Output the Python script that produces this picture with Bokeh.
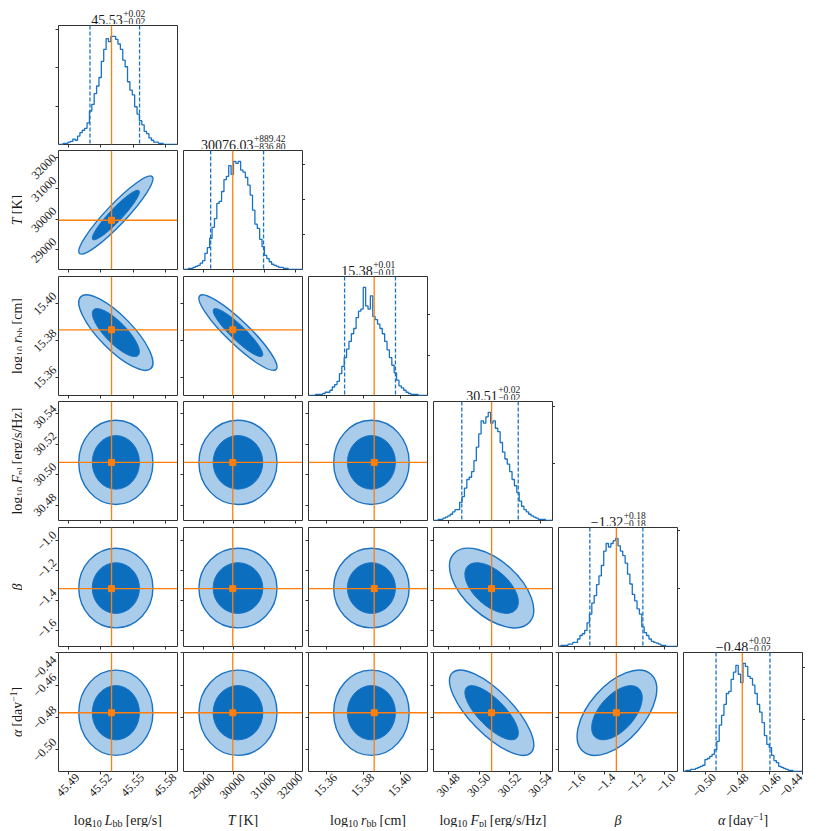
import numpy as np
from bokeh.plotting import figure
from bokeh.layouts import gridplot
from bokeh.models import Range1d, FixedTicker, Span, LinearAxis
from bokeh.core.properties import value
from bokeh.embed import file_html
from bokeh.resources import INLINE

# ------------------------------------------------------------------ data
param_lo = [45.4808, 28353.0, 15.3505, 30.4700, -1.706, -0.5133]
param_hi = [45.5912, 32236.0, 15.4148, 30.5478, -0.912, -0.4398]
tick_values = [[45.49, 45.52, 45.55, 45.58], [29000, 30000, 31000, 32000],
               [15.36, 15.38, 15.40], [30.48, 30.50, 30.52, 30.54],
               [-1.6, -1.4, -1.2, -1.0], [-0.50, -0.48, -0.46, -0.44]]
tick_labels = [["45.49", "45.52", "45.55", "45.58"], ["29000", "30000", "31000", "32000"],
               ["15.36", "15.38", "15.40"], ["30.48", "30.50", "30.52", "30.54"],
               ["−1.6", "−1.4", "−1.2", "−1.0"], ["−0.50", "−0.48", "−0.46", "−0.44"]]
truth = [45.530, 29960.0, 15.386, 30.508, -1.320, -0.477]
quant_lo = [45.510, 29239.2, 15.370, 30.4885, -1.497, -0.4932]
quant_hi = [45.556, 30965.5, 15.3975, 30.5254, -1.143, -0.4599]
post_mean = [45.534, 30130.0, 15.3845, 30.508, -1.316, -0.477]
post_sigma = [0.0145, 537.0, 0.0086, 0.0116, 0.112, 0.0111]
pair_corr = {(1, 0): 0.93, (2, 0): -0.80, (2, 1): -0.91, (3, 0): 0.0, (3, 1): 0.0,
             (3, 2): 0.0, (4, 0): 0.0, (4, 1): 0.0, (4, 2): 0.0, (4, 3): -0.55,
             (5, 0): 0.0, (5, 1): 0.0, (5, 2): 0.0, (5, 3): -0.75, (5, 4): 0.55}
contour_levels = [0.68, 0.94]

hist_L = [0, 0, 3, 3, 6, 8, 14, 11, 22, 31, 37, 42, 56, 87, 104, 132, 152, 174, 216, 247,
          275, 267, 281, 281, 273, 261, 247, 219, 202, 163, 141, 129, 98, 79, 62, 51, 34, 28, 17, 11,
          6, 6, 3, 3, 0, 0, 0, 0, 0, 0]
hist_T = [0, 0, 3, 3, 6, 9, 12, 18, 25, 46, 62, 89, 120, 145, 188, 194, 222, 256, 265, 296,
          271, 308, 302, 308, 283, 277, 262, 240, 212, 169, 129, 117, 86, 65, 40, 31, 22, 15, 12, 9,
          6, 6, 3, 3, 0, 0, 0, 0, 0, 0]
hist_r = [0, 0, 0, 3, 3, 3, 5, 8, 8, 13, 21, 27, 35, 54, 72, 94, 115, 134, 153, 166,
          193, 209, 214, 268, 222, 214, 247, 196, 188, 177, 166, 153, 134, 113, 94, 75, 56, 38, 24, 19,
          13, 8, 5, 3, 3, 3, 0, 0, 0, 0]
hist_F = [0, 0, 2, 2, 4, 6, 8, 11, 15, 19, 19, 32, 42, 57, 72, 76, 86, 105, 129, 152,
          175, 171, 182, 190, 171, 175, 162, 156, 137, 120, 108, 99, 86, 72, 61, 49, 34, 25, 19, 15,
          11, 8, 6, 4, 2, 2, 2, 0, 0, 0]
hist_beta = [0, 2, 2, 2, 4, 4, 7, 7, 13, 19, 22, 28, 41, 56, 75, 88, 107, 122, 140, 165,
             178, 172, 178, 183, 187, 174, 165, 157, 144, 125, 108, 90, 79, 65, 56, 34, 24, 19, 13, 9,
             7, 6, 4, 2, 2, 0, 0, 0, 0, 0]
hist_alpha = [0, 2, 2, 4, 4, 6, 8, 10, 12, 23, 25, 29, 33, 42, 58, 89, 108, 129, 150, 154,
              177, 191, 204, 187, 171, 208, 202, 183, 179, 166, 150, 129, 114, 94, 69, 52, 46, 31, 21, 17,
              10, 8, 6, 4, 2, 2, 0, 0, 0, 0]
hist_counts = [hist_L, hist_T, hist_r, hist_F, hist_beta, hist_alpha]
hist_ticks = [100, 200, 300]

title_med = ["45.53", "30076.03", "15.38", "30.51", "−1.32", "−0.48"]
title_up = ["+0.02", "+889.42", "+0.01", "+0.02", "+0.18", "+0.02"]
title_dn = ["−0.02", "−836.80", "−0.01", "−0.02", "−0.18", "−0.02"]

# axis-label pieces: (text, kind); R=roman, I=italic, S=subscript, P=superscript, G=gap
axis_label_parts = [
    [("log", "R"), ("10", "S"), ("", "G"), ("L", "I"), ("bb", "S"), ("", "G"), ("[erg/s]", "R")],
    [("T", "I"), ("", "G"), ("[K]", "R")],
    [("log", "R"), ("10", "S"), ("", "G"), ("r", "I"), ("bb", "S"), ("", "G"), ("[cm]", "R")],
    [("log", "R"), ("10", "S"), ("", "G"), ("F", "I"), ("pl", "S"), ("", "G"), ("[erg/s/Hz]", "R")],
    [("β", "I")],
    [("α", "I"), ("", "G"), ("[day", "R"), ("−1", "P"), ("]", "R")],
]

# ------------------------------------------------------------------ style / layout
FONT = "Liberation Serif"
TXT = "#1a1a1a"
FRAME = "#333333"
ORANGE = "#ff7f0e"
BLUE = "#1a72c4"
DARK_FILL = "#0b6ebf"
LIGHT_FILL = "#a8cce9"
N = 6
FW = FH = 119
SW = 22                      # left strip (y labels)
COL_LEFT = [36, 3, 3, 3, 3, 3]
COL_RIGHT = 3
ROW_TOP = [1, 1, 1, 1, 1, 1]
ROW_BOTTOM = [5, 6, 5, 6, 5, 35]
TITLE_H = 24
BOTTOM_H = 21
COL_W = [COL_LEFT[j] + FW + COL_RIGHT for j in range(N)]
ROW_H = [ROW_TOP[i] + FH + ROW_BOTTOM[i] for i in range(N)]
XLAB_SHIFT, XLAB_END = 9.0, 2.0     # px: centre rotated x tick labels on their ticks
YLAB_SHIFT, YLAB_END = 10.0, 5.5    # px: centre rotated y tick labels on their ticks
TICK_FONT = "12px"

CW = {'.': 0.25, '+': 0.564, '−': 0.564, '[': 0.333, ']': 0.333, '/': 0.278, 'l': 0.278,
      'o': 0.5, 'g': 0.5, 'b': 0.5, 'e': 0.444, 'r': 0.333, 's': 0.389, 'c': 0.444, 'm': 0.778,
      'H': 0.722, 'z': 0.444, 'K': 0.722, 'd': 0.5, 'a': 0.444, 'y': 0.5, 'p': 0.5}
CW_I = {'L': 0.556, 'T': 0.556, 'r': 0.389, 'F': 0.611, 'β': 0.5, 'α': 0.53}
KIND = {"R": (14, "normal", 0.0), "I": (14, "italic", 0.0), "S": (10, "normal", -3.0),
        "P": (9.5, "normal", 4.0), "G": (14, "normal", 0.0)}


def text_w(s, size, italic=False):
    tot = 0.0
    for c in s:
        if italic and c in CW_I:
            tot += CW_I[c]
        else:
            tot += CW.get(c, 0.5)
    return tot * size


def part_w(t, kind):
    size, style, _ = KIND[kind]
    if kind == "G":
        return 0.22 * size
    return text_w(t, size, style == "italic")


def put_text(p, x, y, t, size, style="normal", angle=0.0):
    p.text(x=[x], y=[y], text=[t], angle=angle, text_font=value(FONT),
           text_font_size=value(f"{size}px"), text_font_style=value(style),
           text_color=TXT, text_align=value("left"), text_baseline=value("alphabetic"))


def add_parts(p, parts, xc, yc, vertical=False):
    widths = [part_w(t, k) for t, k in parts]
    pos = -sum(widths) / 2.0
    for (t, k), w in zip(parts, widths):
        size, style, shift = KIND[k]
        if t:
            if vertical:
                put_text(p, xc - shift, yc + pos, t, size, style, angle=np.pi / 2)
            else:
                put_text(p, xc + pos, yc + shift, t, size, style)
        pos += w


def blank(w, h):
    p = figure(frame_width=w, frame_height=h, output_backend="svg", toolbar_location=None,
               x_range=Range1d(0, w), y_range=Range1d(0, h),
               x_axis_location=None, y_axis_location=None,
               min_border_left=0, min_border_right=0, min_border_top=0, min_border_bottom=0)
    p.frame_align = False
    p.grid.visible = False
    p.outline_line_color = None
    return p


def title_cell(i, w, h, tb):
    p = blank(w, h)
    xc = COL_LEFT[i] + FW / 2.0
    wm = text_w(title_med[i], 14)
    ws = max(text_w(title_up[i], 9.5), text_w(title_dn[i], 9.5))
    x0 = xc - (wm + ws) / 2.0
    put_text(p, x0, 6.0 - tb, title_med[i], 14)
    put_text(p, x0 + wm + 0.5, 12.0 - tb, title_up[i], 9.5)
    put_text(p, x0 + wm + 0.5, 4.5 - tb, title_dn[i], 9.5)
    return p


def tick_axis(ax, vals):
    ax.ticker = FixedTicker(ticks=list(vals))
    ax.major_tick_out = 3
    ax.major_tick_in = 0
    ax.minor_tick_out = 0
    ax.minor_tick_in = 0
    ax.major_tick_line_color = FRAME
    ax.major_tick_line_width = 1
    ax.axis_line_color = None
    ax.major_label_text_color = None
    ax.major_label_text_font_size = "0px"
    ax.major_label_standoff = 0


def label_axis(vals, labels, lo, hi, npx, shift_px, end_px):
    # labels only; each label anchored a few px along the axis from its tick
    unit = (hi - lo) / npx
    pos = []
    for v in vals:
        room = (hi - v) / unit - end_px
        pos.append(float(v + min(shift_px, room) * unit))
    ax = LinearAxis(ticker=FixedTicker(ticks=pos))
    ax.major_tick_out = 0
    ax.major_tick_in = 0
    ax.minor_tick_out = 0
    ax.minor_tick_in = 0
    ax.axis_line_color = None
    ax.major_label_overrides = dict(zip(pos, labels))
    ax.major_label_orientation = np.pi / 4
    ax.major_label_text_font = FONT
    ax.major_label_text_font_size = TICK_FONT
    ax.major_label_text_color = TXT
    ax.major_label_standoff = 1
    return ax


def make_panel(i, j):
    diag = i == j
    if diag:
        yr = Range1d(0, 1.1 * max(hist_counts[i]))
    else:
        yr = Range1d(param_lo[i], param_hi[i])
    p = figure(frame_width=FW, frame_height=FH, output_backend="svg", toolbar_location=None,
               x_range=Range1d(param_lo[j], param_hi[j]), y_range=yr,
               min_border_left=COL_LEFT[j], min_border_right=COL_RIGHT,
               min_border_top=ROW_TOP[i], min_border_bottom=ROW_BOTTOM[i],
               y_axis_location=("right" if (diag and i > 0) else "left"))
    p.grid.visible = False
    p.outline_line_color = FRAME
    p.outline_line_width = 1

    tick_axis(p.xaxis[0], tick_values[j])
    tick_axis(p.yaxis[0], hist_ticks if diag else tick_values[i])
    if i == N - 1:
        p.add_layout(label_axis(tick_values[j], tick_labels[j], param_lo[j], param_hi[j],
                                FW, XLAB_SHIFT, XLAB_END), "below")
    if j == 0 and not diag:
        p.add_layout(label_axis(tick_values[i], tick_labels[i], param_lo[i], param_hi[i],
                                FH, YLAB_SHIFT, YLAB_END), "left")

    if diag:
        c = hist_counts[i]
        edges = np.linspace(param_lo[i], param_hi[i], len(c) + 1)
        p.step(x=edges, y=list(c) + [c[-1]], mode="after", line_color=BLUE, line_width=1.3)
        for q in (quant_lo[i], quant_hi[i]):
            p.add_layout(Span(location=q, dimension="height", line_color=BLUE,
                              line_width=1.3, line_dash="4 2"))
        p.add_layout(Span(location=truth[i], dimension="height", line_color=ORANGE, line_width=1.3))
    else:
        kx = FW / (param_hi[j] - param_lo[j])
        ky = FH / (param_hi[i] - param_lo[i])
        sx = post_sigma[j] * kx
        sy = post_sigma[i] * ky
        rho = pair_corr[(i, j)]
        cov = np.array([[sx * sx, rho * sx * sy], [rho * sx * sy, sy * sy]])
        vals, vecs = np.linalg.eigh(cov)
        ang = float(np.arctan2(vecs[1, 1], vecs[0, 1]))
        for lev, fill, lw in ((contour_levels[1], LIGHT_FILL, 1.4), (contour_levels[0], DARK_FILL, 1.0)):
            k = np.sqrt(-2.0 * np.log(1.0 - lev))
            p.ellipse(x=[post_mean[j]], y=[post_mean[i]],
                      width=[2 * k * np.sqrt(vals[1])], height=[2 * k * np.sqrt(vals[0])],
                      angle=[ang], width_units="screen", height_units="screen",
                      fill_color=fill, line_color=BLUE, line_width=lw)
        p.add_layout(Span(location=truth[j], dimension="height", line_color=ORANGE, line_width=1.3))
        p.add_layout(Span(location=truth[i], dimension="width", line_color=ORANGE, line_width=1.3))
        p.scatter(x=[truth[j]], y=[truth[i]], marker="square", size=6,
                  fill_color=ORANGE, line_color=ORANGE)
    return p


rows = []
top = [None] * (N + 1)
top[1] = title_cell(0, COL_W[0], TITLE_H, ROW_TOP[0])
rows.append(top)
for i in range(N):
    r = [None] * (N + 1)
    if i > 0:
        s = blank(SW, ROW_H[i])
        add_parts(s, axis_label_parts[i], 16.5, ROW_BOTTOM[i] + FH / 2.0, vertical=True)
        r[0] = s
    for j in range(i + 1):
        r[j + 1] = make_panel(i, j)
    if i < N - 1:
        r[i + 2] = title_cell(i + 1, COL_W[i + 1], ROW_H[i], ROW_TOP[i + 1])
    rows.append(r)
bottom = [None] * (N + 1)
for j in range(N):
    s = blank(COL_W[j], BOTTOM_H)
    add_parts(s, axis_label_parts[j], COL_LEFT[j] + FW / 2.0, 7.0)
    bottom[j + 1] = s
rows.append(bottom)

grid = gridplot(rows, toolbar_location=None)

open("out.html", "w").write(file_html(grid, INLINE))
